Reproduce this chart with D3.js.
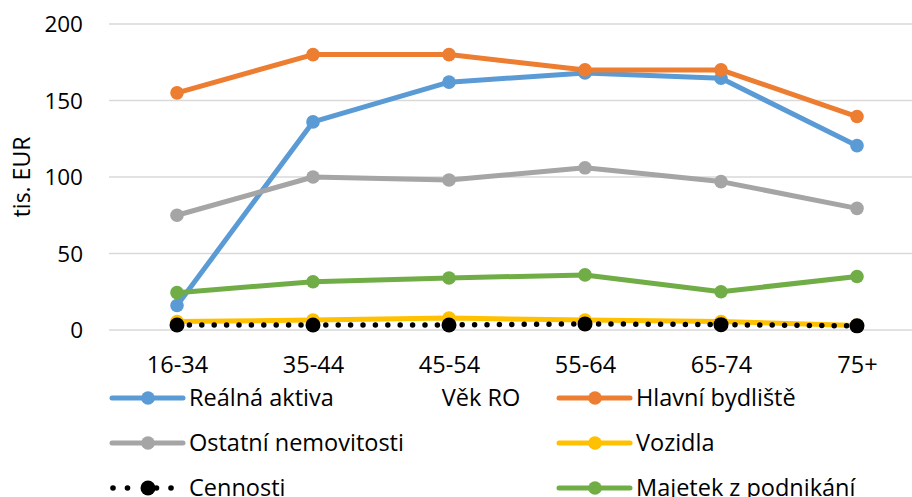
<!DOCTYPE html>
<html><head><meta charset="utf-8">
<script src="https://cdn.jsdelivr.net/npm/d3@7"></script>
<style>body{margin:0;background:#fff}svg{display:block;font-family:"Open Sans",sans-serif}</style>
</head><body><svg id="c" width="912" height="497"></svg>
<script>
const categories = ["16-34","35-44","45-54","55-64","65-74","75+"];
const realnaAktiva = [16, 136, 162, 168, 164.5, 120.5];
const hlavniBydliste = [155, 180, 180, 170, 170, 139.5];
const ostatniNemovitosti = [75, 100, 98, 106, 97, 79.5];
const vozidla = [5.5, 6.5, 7.8, 6.5, 5.5, 3];
const cennosti = [3.3, 3.3, 3.3, 4, 3.5, 2.7];
const majetekPodnikani = [24.4, 31.5, 34, 36, 25, 35];
const yTicks = [0, 50, 100, 150, 200];
const seriesNames = ["Reálná aktiva","Hlavní bydliště","Ostatní nemovitosti","Vozidla","Cennosti","Majetek z podnikání"];
const seriesColors = ["#5B9BD5","#ED7D31","#A5A5A5","#FFC000","#000000","#70AD47"];
const seriesValues = [realnaAktiva, hlavniBydliste, ostatniNemovitosti, vozidla, cennosti, majetekPodnikani];
const yTitle = "tis. EUR";
const xTitle = "Věk RO";

const svg = d3.select("#c");
const x = d3.scalePoint().domain(categories).range([109, 925]).padding(0.5);
const y = d3.scaleLinear().domain([0, 200]).range([330, 24]);

// gridlines
svg.append("g").selectAll("line").data(yTicks).join("line")
  .attr("x1", 109).attr("x2", 912)
  .attr("y1", d => y(d)).attr("y2", d => y(d))
  .attr("stroke", "#D9D9D9").attr("stroke-width", 1.5);

// y axis labels
const yAxis = d3.axisLeft(y).tickValues(yTicks).tickSize(0).tickPadding(0);
const yg = svg.append("g").attr("transform", "translate(83,0)").call(yAxis);
yg.select(".domain").remove();
yg.selectAll("text").attr("font-size", 22.5).attr("fill", "#000").attr("font-family", "Open Sans").attr("dy", "0.35em");

// x axis labels
const xAxis = d3.axisBottom(x).tickSize(0).tickPadding(0);
const xg = svg.append("g").attr("transform", "translate(0,365)").call(xAxis);
xg.select(".domain").remove();
xg.selectAll("text").attr("font-size", 23.5).attr("fill", "#000").attr("font-family", "Open Sans").attr("dy", "0.35em");

// y title
svg.append("text").attr("transform", "translate(30,177) rotate(-90)")
  .attr("text-anchor", "middle").attr("font-size", 23).text(yTitle);
// x title
svg.append("text").attr("x", 481).attr("y", 398).attr("dy", "0.35em").attr("text-anchor", "middle")
  .attr("font-size", 23.5).text(xTitle);

const line = d3.line().x((d, i) => x(categories[i])).y(d => y(d));

seriesValues.forEach((vals, s) => {
  const g = svg.append("g");
  const isDot = s === 4;
  g.append("path").attr("d", line(vals)).attr("fill", "none")
    .attr("stroke", seriesColors[s])
    .attr("stroke-width", isDot ? 5.5 : 5)
    .attr("stroke-linecap", "round").attr("stroke-linejoin", "round")
    .attr("stroke-dasharray", isDot ? "0 12.4" : null);
  g.selectAll("circle").data(vals).join("circle")
    .attr("cx", (d, i) => x(categories[i])).attr("cy", d => y(d))
    .attr("r", isDot ? 7.5 : 6.8).attr("fill", seriesColors[s]);
});

// legend
const legendRows = [398, 443, 488];
const legendCols = [112, 559];
seriesNames.forEach((name, s) => {
  const col = s % 2, row = Math.floor(s / 2);
  const lx = legendCols[col], ly = legendRows[row];
  const g = svg.append("g");
  const isDot = s === 4;
  if (isDot) {
    g.selectAll("circle.d").data([0, 1, 3, 4]).join("circle")
      .attr("cx", d => lx + 1 + d * 14.5).attr("cy", ly).attr("r", 2.8).attr("fill", "#000");
  } else {
    g.append("line").attr("x1", lx).attr("x2", lx + 71).attr("y1", ly).attr("y2", ly)
      .attr("stroke", seriesColors[s]).attr("stroke-width", 5).attr("stroke-linecap", "round");
  }
  g.append("circle").attr("cx", lx + 36).attr("cy", ly).attr("r", isDot ? 7.5 : 6.8).attr("fill", seriesColors[s]);
  g.append("text").attr("x", lx + 77).attr("y", ly).attr("dy", "0.35em")
    .attr("font-size", 23.5).text(name);
});
</script></body></html>
